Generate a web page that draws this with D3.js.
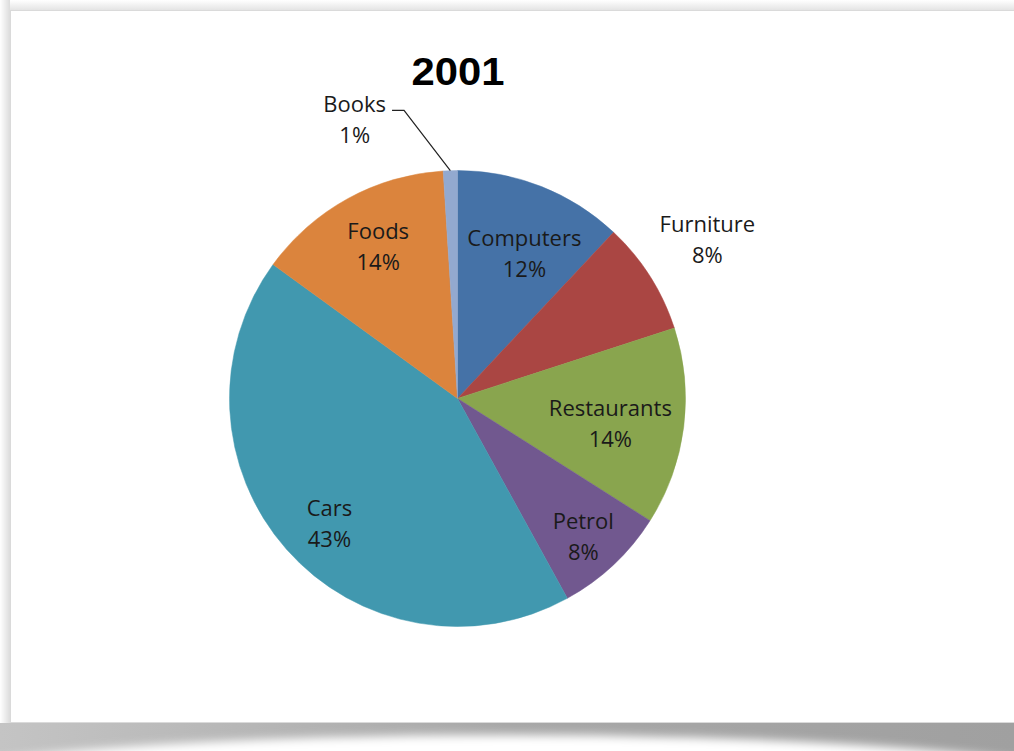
<!DOCTYPE html>
<html><head><meta charset="utf-8">
<script src="https://cdn.jsdelivr.net/npm/d3@7"></script>
<style>body{margin:0;background:#fff;} svg{display:block;}</style>
</head><body><svg id="chart" width="1014" height="751"></svg>
<script>
const categories = ["Computers","Furniture","Restaurants","Petrol","Cars","Foods","Books"];
const values = [12, 8, 14, 8, 43, 14, 1];
const percentLabels = ["12%","8%","14%","8%","43%","14%","1%"];
const colors = ["#4572A7","#AA4643","#89A54E","#71588F","#4198AF","#DB843D","#93A9CF"];
const title = "2001";
// label placement: radius factor and angle shift (degrees) relative to slice middle
const labelRadius = [0.667, 1.28, 0.686, 0.846, 0.81, 0.722, 1.27];
const labelShift = [4.5, 1.3, 5, 2.5, -4.7, 0, -19];
const outsideLeader = [false, false, false, false, false, false, true];

const W = 1014, H = 751;
const svg = d3.select("#chart");
const defs = svg.append("defs");

// frame shadows
const gTop = defs.append("linearGradient").attr("id","gTop").attr("x1",0).attr("y1",0).attr("x2",0).attr("y2",1);
gTop.append("stop").attr("offset","0%").attr("stop-color","#ffffff");
gTop.append("stop").attr("offset","100%").attr("stop-color","#e4e4e4");
const gLeft = defs.append("linearGradient").attr("id","gLeft").attr("x1",0).attr("y1",0).attr("x2",1).attr("y2",0);
gLeft.append("stop").attr("offset","0%").attr("stop-color","#ffffff");
gLeft.append("stop").attr("offset","100%").attr("stop-color","#dcdcdc");
const gBand = defs.append("linearGradient").attr("id","gBand").attr("x1",0).attr("y1",0).attr("x2",1).attr("y2",0);
gBand.append("stop").attr("offset","0%").attr("stop-color","#c4c4c4");
gBand.append("stop").attr("offset","50%").attr("stop-color","#a8a8a8");
gBand.append("stop").attr("offset","100%").attr("stop-color","#a0a0a0");
const blur = defs.append("filter").attr("id","blur").attr("x","-20%").attr("y","-80%").attr("width","140%").attr("height","260%");
blur.append("feGaussianBlur").attr("stdDeviation", 5);

svg.append("rect").attr("x",0).attr("y",0).attr("width",W).attr("height",10).attr("fill","url(#gTop)");
svg.append("rect").attr("x",0).attr("y",0).attr("width",10).attr("height",H).attr("fill","url(#gLeft)");
svg.append("rect").attr("x",0).attr("y",723).attr("width",W).attr("height",28).attr("fill","url(#gBand)");
svg.append("ellipse").attr("cx",507).attr("cy",795).attr("rx",633).attr("ry",60).attr("fill","#fff").attr("filter","url(#blur)");
svg.append("rect").attr("x",10.5).attr("y",10.5).attr("width",W).attr("height",712).attr("fill","#fff").attr("stroke","#dadada");

// title
svg.append("text").attr("transform","translate(458,85) scale(1.1,1)").attr("text-anchor","middle")
  .attr("font-family","'Liberation Sans', Arial, sans-serif").attr("font-weight","bold")
  .attr("font-size",38).attr("fill","#000").text(title);

// pie
const cx = 457.5, cy = 398.5, R = 228;
const data = categories.map((c,i)=>({name:c, value:values[i], label:percentLabels[i], color:colors[i], i}));
const pie = d3.pie().sort(null).value(d=>d.value).startAngle(0).endAngle(2*Math.PI);
const arc = d3.arc().innerRadius(0).outerRadius(R);
const arcs = pie(data);
const g = svg.append("g").attr("transform",`translate(${cx},${cy})`);
g.selectAll("path").data(arcs).join("path")
  .attr("d",arc).attr("fill",d=>d.data.color)
  .attr("stroke",d=>d.data.color).attr("stroke-width",0.5);

const polar = (r,a)=>[r*Math.sin(a), -r*Math.cos(a)];
const lg = g.append("g").attr("font-family","'Open Sans', 'Noto Sans', sans-serif").attr("font-size",22).attr("fill","#1a1a1a");
arcs.forEach(d=>{
  const i = d.data.i;
  const mid = (d.startAngle + d.endAngle)/2;
  const a = mid + labelShift[i]*Math.PI/180;
  const [x,y] = polar(R*labelRadius[i], a);
  const t = lg.append("text").attr("text-anchor","middle");
  t.append("tspan").attr("x",x).attr("y",y-15.5).text(d.data.name);
  t.append("tspan").attr("x",x).attr("y",y+15.5).text(d.data.label);
  if (outsideLeader[i]) {
    const first = t.select("tspan").node();
    const bb = first.getBBox();
    const right = bb.x + bb.width;
    const ly = y - 15.5 - 2;
    const [ex,ey] = polar(R, mid);
    g.append("polyline")
      .attr("points",`${right+6},${ly} ${right+18},${ly} ${ex},${ey}`)
      .attr("fill","none").attr("stroke","#222").attr("stroke-width",1.2);
  }
});
</script></body></html>
